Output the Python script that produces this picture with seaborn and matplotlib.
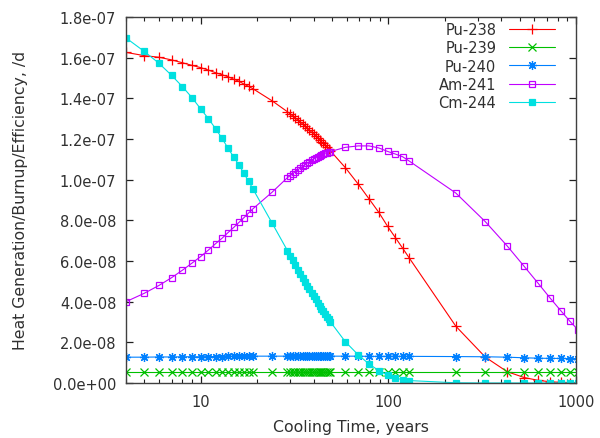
import matplotlib
matplotlib.use("Agg")
import matplotlib.pyplot as plt
import matplotlib.ticker as mticker
import seaborn as sns
import pandas as pd

# Cooling time (years)
years = [4, 5, 6, 7, 8, 9, 10, 11, 12, 13, 14, 15, 16, 17, 18, 19,
         24,
         29, 30, 31, 32, 33, 34, 35, 36, 37, 38, 39, 40, 41, 42, 43, 44, 45, 46, 47, 48, 49,
         59, 69, 79, 89, 99, 109, 119, 129,
         229, 329, 429, 529, 629, 729, 829, 929, 1029]

# Values in units of 1e-8
pu238 = [16.26, 16.10, 16.02, 15.89, 15.75, 15.62, 15.51, 15.39, 15.26, 15.16, 15.06, 14.94, 14.84, 14.70, 14.59, 14.47,
         13.88,
         13.34, 13.23, 13.13, 13.03, 12.93, 12.83, 12.73, 12.63, 12.53, 12.43, 12.34, 12.24, 12.15, 12.05, 11.96, 11.87,
         11.78, 11.69, 11.60, 11.51, 11.43,
         10.59, 9.79, 9.05, 8.39, 7.71, 7.15, 6.64, 6.16,
         2.79, 1.27, 0.56, 0.27, 0.13, 0.06, 0.03, 0.015, 0.007]

pu239 = [0.53, 0.53, 0.53, 0.53, 0.53, 0.53, 0.53, 0.53, 0.53, 0.53, 0.53, 0.53, 0.53, 0.53, 0.53, 0.53,
         0.53,
         0.53, 0.53, 0.53, 0.53, 0.53, 0.53, 0.53, 0.53, 0.53, 0.53, 0.53, 0.53, 0.53, 0.53, 0.53, 0.53,
         0.53, 0.53, 0.53, 0.53, 0.53,
         0.53, 0.53, 0.53, 0.53, 0.53, 0.53, 0.53, 0.53,
         0.53, 0.53, 0.53, 0.53, 0.53, 0.53, 0.53, 0.53, 0.53]

pu240 = [1.27, 1.27, 1.28, 1.28, 1.29, 1.29, 1.29, 1.30, 1.30, 1.30, 1.31, 1.31, 1.31, 1.31, 1.31, 1.32,
         1.32,
         1.32, 1.32, 1.32, 1.32, 1.32, 1.32, 1.32, 1.32, 1.32, 1.32, 1.32, 1.32, 1.32, 1.32, 1.32, 1.32,
         1.32, 1.32, 1.32, 1.32, 1.32,
         1.32, 1.32, 1.31, 1.31, 1.31, 1.31, 1.31, 1.31,
         1.30, 1.29, 1.27, 1.24, 1.22, 1.21, 1.21, 1.20, 1.20]

am241 = [4.00, 4.41, 4.80, 5.18, 5.55, 5.90, 6.22, 6.54, 6.85, 7.12, 7.40, 7.65, 7.90, 8.13, 8.36, 8.57,
         9.38,
         10.10, 10.20, 10.30, 10.40, 10.49, 10.58, 10.66, 10.74, 10.82, 10.89, 10.96, 11.02, 11.08, 11.13, 11.18,
         11.23, 11.27, 11.30, 11.33, 11.36, 11.38,
         11.59, 11.66, 11.66, 11.56, 11.39, 11.26, 11.13, 10.92,
         9.34, 7.93, 6.75, 5.74, 4.90, 4.17, 3.56, 3.03, 2.60]

cm244 = [16.97, 16.31, 15.72, 15.13, 14.57, 14.03, 13.48, 13.00, 12.51, 12.03, 11.54, 11.11, 10.72, 10.31, 9.92, 9.54,
         7.87,
         6.51, 6.27, 6.03, 5.80, 5.58, 5.37, 5.17, 4.98, 4.79, 4.61, 4.44, 4.27, 4.11, 3.95, 3.80, 3.66,
         3.52, 3.39, 3.26, 3.14, 3.02,
         2.03, 1.39, 0.93, 0.61, 0.39, 0.25, 0.16, 0.12,
         0.01, 0.0, 0.0, 0.0, 0.0, 0.0, 0.0, 0.0, 0.0]

series_names = ["Pu-238", "Pu-239", "Pu-240", "Am-241", "Cm-244"]
series_values = [pu238, pu239, pu240, am241, cm244]
x_ticks = [10, 100, 1000]
x_tick_labels = ["10", "100", "1000"]
y_ticks = [0, 2e-8, 4e-8, 6e-8, 8e-8, 1e-7, 1.2e-7, 1.4e-7, 1.6e-7, 1.8e-7]

colors = ["#ff0000", "#00c000", "#0080ff", "#c000ff", "#00e0e0"]
markers = ["+", "x", (8, 2, 0), "s", "s"]
msizes = [6.5, 5.5, 6.5, 4.6, 4.6]
fills = [True, True, True, False, True]

sns.set_style("ticks")
plt.rcParams["font.family"] = ["DejaVu Sans"]
plt.rcParams["font.size"] = 10.5

fig = plt.figure(figsize=(6.0, 4.39), dpi=100)
ax = fig.add_axes([126 / 600, 1 - 384 / 439, 450 / 600, 366 / 439])

frames = []
for name, vals in zip(series_names, series_values):
    frames.append(pd.DataFrame({"years": years, "value": [v * 1e-8 for v in vals], "nuclide": name}))
df = pd.concat(frames, ignore_index=True)

for name, col, mk, ms, filled in zip(series_names, colors, markers, msizes, fills):
    sub = df[df["nuclide"] == name]
    kw = dict(marker=mk, markersize=ms, markeredgewidth=0.9, markeredgecolor=col)
    kw["markerfacecolor"] = col if filled else "none"
    sns.lineplot(data=sub, x="years", y="value", ax=ax, color=col, linewidth=0.8,
                 label=name, estimator=None, sort=False, **kw)

ax.set_xscale("log")
ax.set_xlim(4, 1000)
ax.set_ylim(0, 1.8e-7)
ax.set_xticks(x_ticks)
ax.set_xticklabels(x_tick_labels)
ax.xaxis.set_minor_locator(mticker.LogLocator(base=10, subs=[2, 3, 4, 5, 6, 7, 8, 9]))
ax.xaxis.set_minor_formatter(mticker.NullFormatter())
ax.set_yticks(y_ticks)
ax.yaxis.set_major_formatter(mticker.FuncFormatter(lambda v, p: "%.1e" % v))

ax.tick_params(axis="both", which="major", direction="in", length=5, width=0.9,
               top=True, right=True, colors="#202020", labelcolor="#303030", labelsize=10.5)
ax.tick_params(axis="x", which="major", pad=8)
ax.tick_params(axis="y", which="major", pad=7)
ax.tick_params(axis="x", which="minor", direction="in", length=3, width=0.8, top=True, colors="#202020")
for s in ax.spines.values():
    s.set_visible(True)
    s.set_color("#404040")
    s.set_linewidth(1.0)

ax.set_xlabel("Cooling Time, years", color="#303030", fontsize=11.3, labelpad=7)
ax.set_ylabel("Heat Generation/Burnup/Efficiency, /d", color="#303030", fontsize=11.3, labelpad=18)

leg = ax.legend(loc="upper right", frameon=False, markerfirst=False, handlelength=3.1,
                handletextpad=0.9, labelspacing=0.22, borderaxespad=0.3, fontsize=10.5,
                bbox_to_anchor=(0.975, 1.014))
for t in leg.get_texts():
    t.set_color("#303030")

fig.savefig("out.png", dpi=100)
